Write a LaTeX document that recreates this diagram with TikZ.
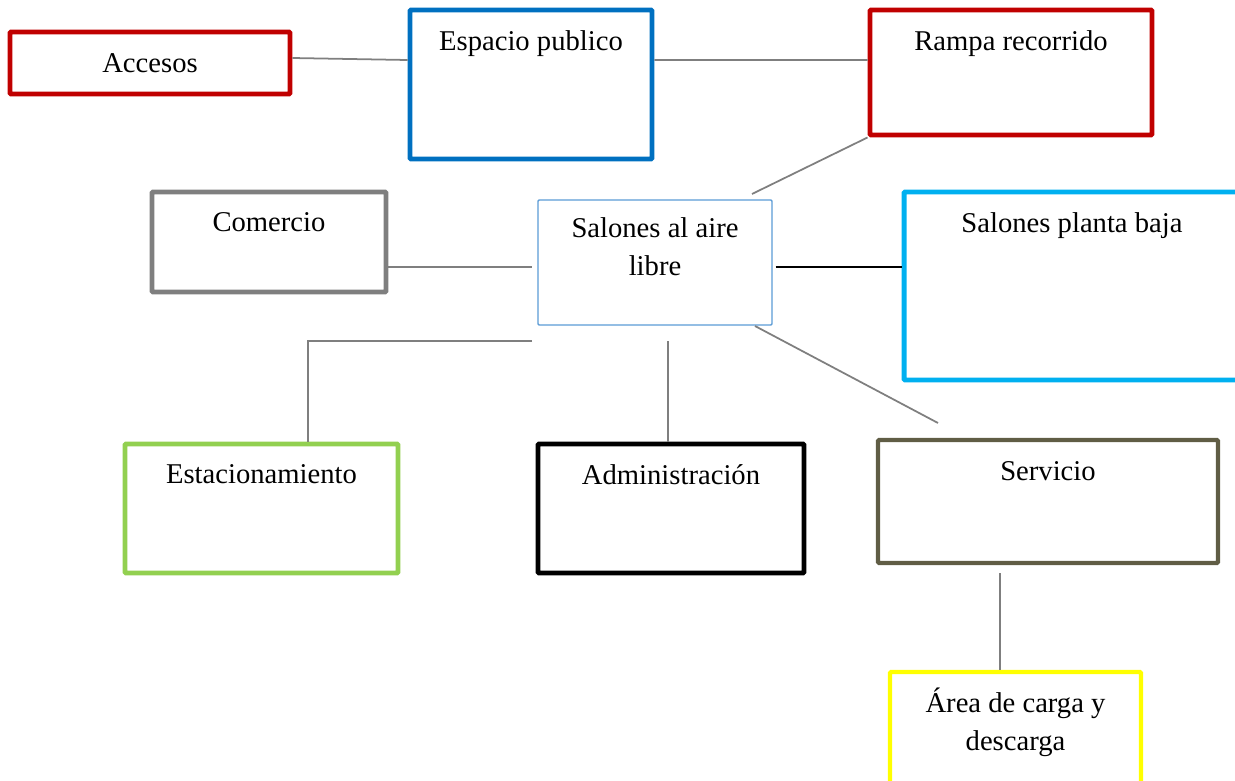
\documentclass[tikz,border=0pt]{standalone}
\usepackage{fontspec}
\setmainfont{Liberation Serif}
\usepackage{tikz}
\usetikzlibrary{positioning, calc}
\definecolor{rojo}{HTML}{C00000}
\definecolor{azul}{HTML}{0070C0}
\definecolor{azulclaro}{HTML}{5B9BD5}
\definecolor{celeste}{HTML}{00B0F0}
\definecolor{gris}{HTML}{7F7F7F}
\definecolor{verde}{HTML}{92D050}
\definecolor{oliva}{HTML}{605D45}
\definecolor{amarillo}{HTML}{FFFF00}
\tikzset{
  caja/.style={draw=#1, line width=2.8pt, rounded corners=0.6pt, inner sep=0pt, font=\fontsize{16.3}{21.5}\selectfont, align=center},
  titulo/.style={font=\fontsize{16.3}{21.5}\selectfont, align=center, anchor=north, yshift=-0.34cm},
  titulodos/.style={titulo, yshift=0.1cm},
  enlace/.style={draw=gris, line width=1pt}
}

\begin{document}
\begin{tikzpicture}[x=0.02cm, y=-0.02cm]
  \useasboundingbox (0,0) rectangle (1235,781);

  % top row
  \node[caja=rojo, minimum width=5.6cm, minimum height=1.24cm] (acc) at (150,63) {Accesos};
  \node[caja=azul, minimum width=4.84cm, minimum height=2.98cm, label={[titulo]north:Espacio publico}] (esp) at (531,84.5) {};
  \node[caja=rojo, minimum width=5.64cm, minimum height=2.5cm, label={[titulo]north:Rampa recorrido}] (ram) at (1011,72.5) {};

  % middle row
  \node[caja=gris, minimum width=4.68cm, minimum height=2cm, label={[titulo]north:Comercio}] (com) at (269,242) {};
  \node[caja=azulclaro, line width=0.8pt, minimum width=4.68cm, minimum height=2.5cm, label={[titulodos]north:Salones al aire\\libre}] (sal) at (655,262.5) {};
  \node[caja=celeste, minimum width=6.72cm, minimum height=3.76cm, label={[titulo]north:Salones planta baja}] (spb) at (1072,286) {};

  % bottom row
  \node[caja=verde, minimum width=5.46cm, minimum height=2.58cm, label={[titulo]north:Estacionamiento}] (est) at (261.5,508.5) {};
  \node[caja=black, minimum width=5.32cm, minimum height=2.58cm, label={[titulo]north:Administración}] (adm) at (671,508.5) {};
  \node[caja=oliva, line width=2.4pt, minimum width=6.8cm, minimum height=2.46cm, label={[titulo]north:Servicio}] (ser) at (1048,501.5) {};
  \node[caja=amarillo, line width=2.4pt, minimum width=5.02cm, minimum height=2.5cm, label={[titulodos]north:Área de carga y\\descarga}] (are) at (1015.5,734.5) {};

  % free ends of the connectors
  \coordinate (fin-ram) at (752,194);
  \coordinate (fin-com) at (532,267);
  \coordinate (fin-est) at (532,341);
  \coordinate (fin-adm) at (668,341);
  \coordinate (ini-ser) at (755,326);
  \coordinate (fin-ser) at (938,423);
  \coordinate (ini-are) at (1000,573);

  % connectors
  \draw[enlace] ([yshift=0.1cm]acc.east) -- ([yshift=0.49cm]esp.west);
  \draw[enlace] ([yshift=0.49cm]esp.east) -- ([yshift=0.25cm]ram.west);
  \draw[enlace] (ram.south west) -- (fin-ram);
  \draw[enlace] (com.east |- fin-com) -- (fin-com);
  \draw[enlace, draw=black] ([xshift=0.06cm, yshift=-0.09cm]sal.east) coordinate (ini-spb) -- (spb.west |- ini-spb);
  \draw[enlace] (fin-est) -| ([xshift=0.93cm]est.north);
  \draw[enlace] (fin-adm) -- (fin-adm |- adm.north);
  \draw[enlace] (ini-ser) -- (fin-ser);
  \draw[enlace] (ini-are) -- (ini-are |- are.north);
\end{tikzpicture}
\end{document}
